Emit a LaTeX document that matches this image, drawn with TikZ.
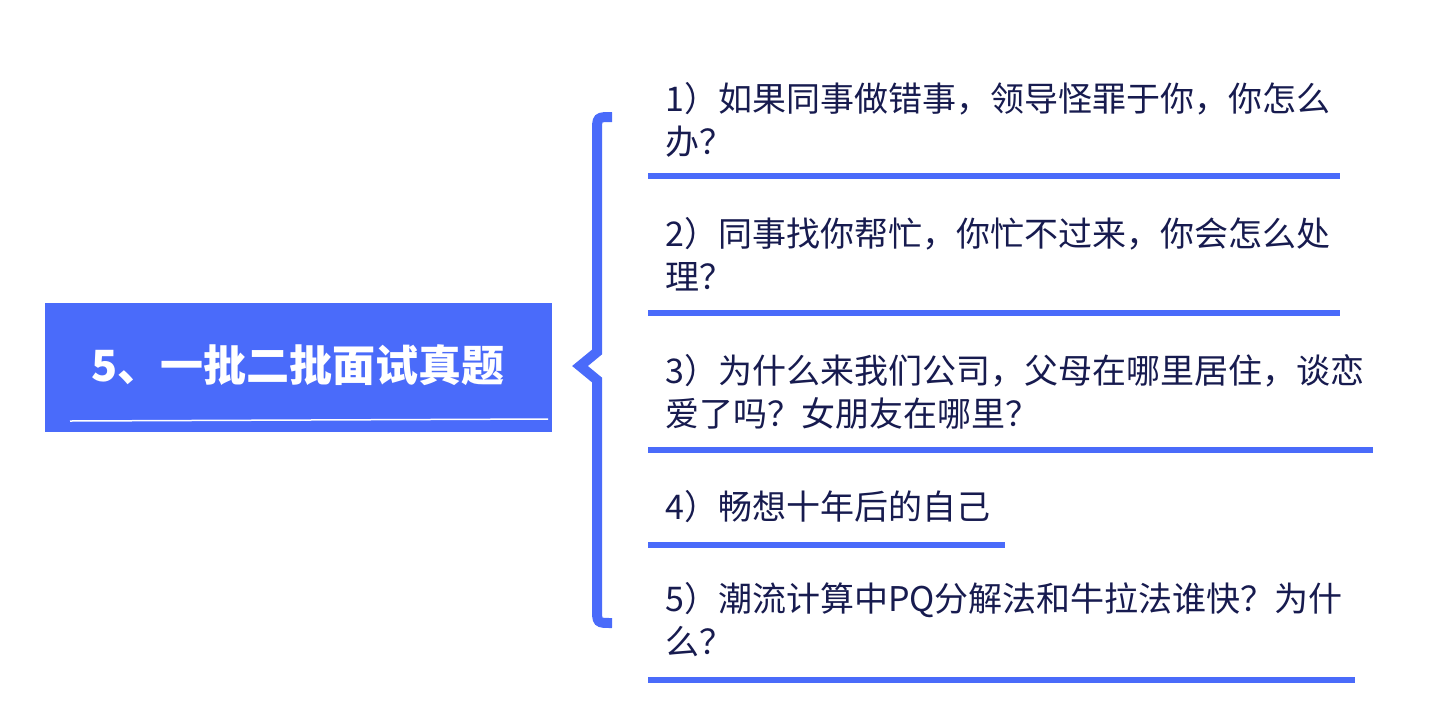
\documentclass[tikz,border=0pt]{standalone}
\usepackage{fontspec}
\setmainfont{Noto Sans CJK SC}
\usetikzlibrary{positioning,calc}
\definecolor{brush}{HTML}{4A6BFA}
\definecolor{ink}{HTML}{171B4F}

\begin{document}
\begin{tikzpicture}[
    x=1pt, y=-1pt,
    title/.style={font=\fontsize{43}{50}\selectfont\bfseries, text=white, inner sep=0pt, anchor=base},
    question/.style={font=\fontsize{34}{43}\selectfont, text=ink, align=left, inner sep=0pt, anchor=base west},
    rule/.style={draw=brush, line width=6pt},
    brace/.style={draw=brush, line width=10pt, line join=miter}
]
\useasboundingbox (0,0) rectangle (1441,713);

% root box
\fill[brush] (45,303) rectangle (552,432);
\draw[white, line width=1.5pt] (70,421) -- (548,419);
\node[title] (root) at (298,381) {5、一批二批面试真题};

% brace
\coordinate (bt) at (612,117);
\coordinate (bm) at (580,366);
\coordinate (bb) at (612,623);
\draw[brace] (bt) .. controls (597,117) .. (597,132) -- (597,352) -- (bm)
  -- (597,380) -- (597,608) .. controls (597,623) .. (bb);

% questions (base = last line)
\node[question] (q1) at (665,154) {1）如果同事做错事，领导怪罪于你，你怎么\\办？};
\node[question] (q2) at (665,289) {2）同事找你帮忙，你忙不过来，你会怎么处\\理？};
\node[question] (q3) at (665,426) {3）为什么来我们公司，父母在哪里居住，谈恋\\爱了吗？女朋友在哪里？};
\node[question] (q4) at (665,519) {4）畅想十年后的自己};
\node[question] (q5) at (665,654) {5）潮流计算中PQ分解法和牛拉法谁快？为什\\么？};

% underlines
\foreach \n/\y/\xe in {1/176/1340, 2/313/1340, 3/450/1373, 4/545/1005, 5/680/1355} {
  \coordinate (u\n a) at (648,\y);
  \coordinate (u\n b) at (\xe,\y);
  \draw[rule] (u\n a) -- (u\n b);
}
\end{tikzpicture}
\end{document}
